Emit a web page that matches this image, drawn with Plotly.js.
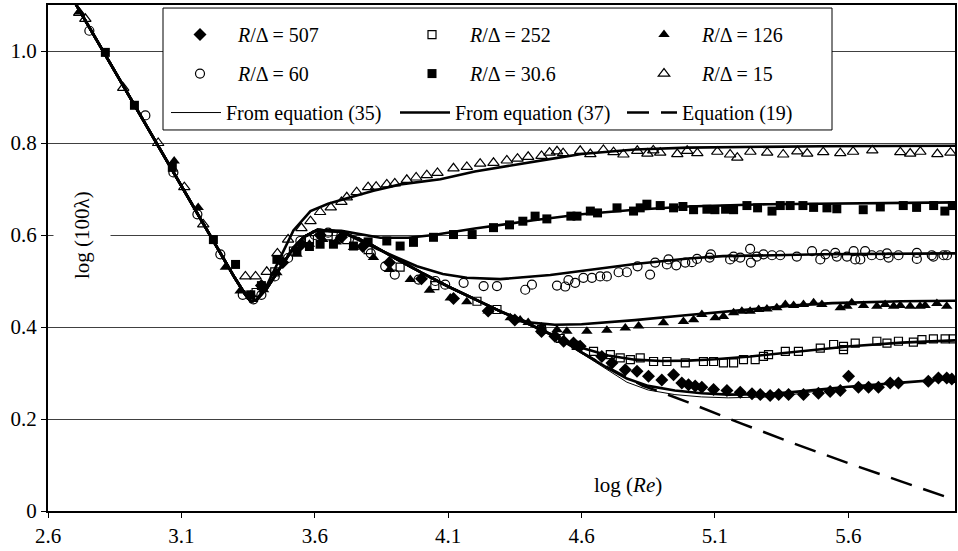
<!DOCTYPE html>
<html>
<head>
<meta charset="utf-8">
<script src="https://cdn.plot.ly/plotly-3.0.1.min.js"></script>
<style>html,body{margin:0;padding:0;background:#fff}#chart{width:958px;height:551px}</style>
</head>
<body>
<div id="chart"></div>
<script>
// ---- tick labels ----
const xTickVals = [2.6, 3.1, 3.6, 4.1, 4.6, 5.1, 5.6];
const xTickText = ["2.6", "3.1", "3.6", "4.1", "4.6", "5.1", "5.6"];
const yTickVals = [0, 0.2, 0.4, 0.6, 0.8, 1.0];
const yTickText = ["0", "0.2", "0.4", "0.6", "0.8", "1.0"];

// ---- experimental points (log Re, log 100λ) ----
const s507x = [3.40,3.48,3.55,3.62,3.70,3.78,3.88,4.00,4.12,4.25,4.35,4.45,4.50,4.533,4.57,4.595,4.676,4.714,4.764,4.808,4.851,4.901,4.945,4.976,5.001,5.026,5.051,5.095,5.145,5.195,5.239,5.27,5.307,5.339,5.376,5.432,5.488,5.532,5.57,5.601,5.638,5.676,5.713,5.757,5.788,5.9,5.938,5.969,5.988];
const s507y = [0.49,0.54,0.58,0.60,0.595,0.575,0.54,0.505,0.462,0.435,0.415,0.39,0.38,0.369,0.365,0.358,0.336,0.322,0.307,0.304,0.293,0.285,0.296,0.278,0.2745,0.272,0.269,0.264,0.262,0.258,0.255,0.253,0.251,0.253,0.253,0.253,0.256,0.26,0.262,0.293,0.269,0.269,0.269,0.278,0.278,0.282,0.289,0.289,0.287];

const s252x = [3.38,3.45,3.52,3.58,3.65,3.72,3.80,3.92,4.05,4.208,4.283,4.45,4.52,4.58,4.645,4.708,4.745,4.783,4.82,4.87,4.92,4.989,5.057,5.095,5.132,5.17,5.207,5.251,5.282,5.301,5.364,5.413,5.495,5.545,5.582,5.582,5.626,5.707,5.745,5.788,5.844,5.876,5.919,5.963,5.994];
const s252y = [0.475,0.52,0.565,0.59,0.598,0.59,0.568,0.53,0.49,0.456,0.438,0.395,0.375,0.36,0.347,0.34,0.333,0.329,0.333,0.325,0.325,0.322,0.325,0.325,0.322,0.322,0.329,0.329,0.336,0.34,0.347,0.347,0.354,0.362,0.358,0.351,0.365,0.369,0.365,0.369,0.367,0.3725,0.374,0.374,0.374];

const s126x = [2.717,3.073,3.163,3.265,3.32,3.36,3.408,3.458,3.533,3.58,3.63,3.68,3.745,3.82,3.88,3.958,4.03,4.108,4.17,4.25,4.333,4.37,4.40,4.45,4.508,4.545,4.62,4.695,4.764,4.814,4.907,4.982,5.02,5.051,5.101,5.132,5.17,5.201,5.232,5.264,5.295,5.332,5.364,5.395,5.432,5.47,5.501,5.57,5.595,5.613,5.657,5.707,5.738,5.77,5.795,5.832,5.869,5.888,5.932,5.969];
const s126y = [1.085,0.761,0.66,0.53,0.478,0.47,0.481,0.518,0.558,0.58,0.59,0.585,0.573,0.551,0.525,0.503,0.48,0.463,0.455,0.435,0.42,0.415,0.41,0.40,0.394,0.391,0.391,0.393,0.398,0.402,0.409,0.412,0.416,0.427,0.42,0.423,0.431,0.434,0.434,0.438,0.439,0.442,0.449,0.447,0.449,0.4525,0.449,0.442,0.445,0.4525,0.447,0.445,0.449,0.445,0.447,0.445,0.445,0.447,0.451,0.445];

const s60x = [2.755,2.965,3.07,3.16,3.246,3.33,3.37,3.40,3.45,3.50,3.546,3.60,3.65,3.70,3.76,3.81,3.864,3.90,3.989,4.052,4.089,4.158,4.233,4.283,4.389,4.414,4.508,4.539,4.551,4.576,4.607,4.639,4.67,4.695,4.739,4.77,4.81,4.857,4.876,4.92,4.926,4.955,4.989,5.014,5.033,5.08,5.085,5.157,5.17,5.195,5.232,5.235,5.257,5.282,5.314,5.345,5.407,5.464,5.495,5.514,5.551,5.557,5.595,5.62,5.626,5.645,5.663,5.688,5.72,5.745,5.751,5.788,5.857,5.857,5.913,5.919,5.957,5.97];
const s60y = [1.044,0.86,0.736,0.645,0.558,0.47,0.46,0.47,0.51,0.55,0.587,0.60,0.605,0.60,0.585,0.56,0.532,0.514,0.503,0.50,0.492,0.496,0.489,0.489,0.481,0.492,0.49,0.488,0.502,0.496,0.507,0.507,0.51,0.51,0.519,0.519,0.532,0.514,0.54,0.536,0.547,0.534,0.54,0.541,0.548,0.551,0.558,0.547,0.553,0.551,0.57,0.54,0.553,0.558,0.556,0.556,0.553,0.565,0.547,0.558,0.561,0.553,0.553,0.565,0.547,0.547,0.565,0.556,0.556,0.56,0.551,0.556,0.561,0.548,0.556,0.553,0.556,0.556];

const s30x = [2.815,2.924,3.066,3.22,3.303,3.36,3.40,3.458,3.533,3.58,3.62,3.67,3.745,3.80,3.87,3.92,3.97,4.045,4.12,4.19,4.27,4.33,4.38,4.426,4.47,4.56,4.583,4.633,4.66,4.733,4.795,4.82,4.845,4.895,4.945,4.98,5.02,5.07,5.10,5.14,5.17,5.22,5.26,5.314,5.345,5.382,5.43,5.47,5.52,5.557,5.656,5.72,5.806,5.856,5.92,5.962,5.99];
const s30y = [0.997,0.882,0.747,0.59,0.536,0.47,0.49,0.547,0.565,0.575,0.58,0.58,0.576,0.585,0.587,0.576,0.584,0.595,0.601,0.601,0.616,0.622,0.63,0.641,0.635,0.641,0.641,0.652,0.648,0.659,0.652,0.659,0.667,0.664,0.659,0.662,0.655,0.656,0.655,0.656,0.655,0.664,0.659,0.652,0.664,0.664,0.664,0.66,0.659,0.657,0.655,0.661,0.664,0.66,0.664,0.652,0.664];

const s15x = [2.717,2.74,2.882,3.013,3.111,3.182,3.34,3.378,3.42,3.46,3.50,3.55,3.584,3.62,3.66,3.70,3.72,3.757,3.80,3.83,3.87,3.90,3.945,3.98,4.02,4.06,4.12,4.17,4.22,4.27,4.32,4.36,4.40,4.45,4.48,4.508,4.531,4.595,4.633,4.682,4.72,4.757,4.809,4.847,4.869,4.895,4.959,4.996,5.034,5.109,5.157,5.184,5.233,5.296,5.356,5.409,5.446,5.506,5.57,5.618,5.69,5.795,5.832,5.87,5.934,5.983];
const s15y = [1.083,1.07,0.92,0.80,0.704,0.623,0.51,0.51,0.52,0.56,0.59,0.615,0.63,0.65,0.66,0.672,0.682,0.693,0.704,0.705,0.71,0.712,0.72,0.725,0.73,0.735,0.745,0.748,0.755,0.757,0.762,0.766,0.77,0.772,0.779,0.782,0.778,0.783,0.776,0.785,0.78,0.775,0.783,0.777,0.784,0.779,0.776,0.783,0.778,0.781,0.775,0.768,0.781,0.779,0.775,0.782,0.777,0.78,0.778,0.781,0.784,0.78,0.777,0.781,0.776,0.779];

// ---- model curves, equation (37) ----
const c15x = [2.6,2.8,3.0,3.2,3.3,3.34,3.36,3.38,3.42,3.47,3.52,3.584,3.65,3.734,3.82,3.921,4.071,4.2,4.35,4.48,4.6,4.8,5.0,5.5,6.0];
const c15y = [1.206,1.006,0.806,0.606,0.507,0.47,0.456,0.458,0.49,0.55,0.61,0.652,0.668,0.682,0.696,0.71,0.721,0.738,0.753,0.765,0.776,0.786,0.79,0.793,0.794];
const c30x = [2.6,2.8,3.0,3.2,3.3,3.34,3.36,3.38,3.42,3.47,3.52,3.56,3.61,3.70,3.797,3.846,3.95,4.045,4.2,4.42,4.6,4.8,5.0,5.3,6.0];
const c30y = [1.206,1.006,0.806,0.606,0.507,0.47,0.456,0.458,0.484,0.528,0.572,0.596,0.611,0.609,0.60,0.594,0.594,0.60,0.614,0.632,0.645,0.655,0.662,0.667,0.671];
const c60x = [2.6,2.8,3.0,3.2,3.3,3.34,3.36,3.38,3.42,3.47,3.52,3.56,3.61,3.70,3.833,3.983,4.08,4.17,4.295,4.483,4.6,4.8,5.0,5.13,5.5,6.0];
const c60y = [1.206,1.006,0.806,0.606,0.507,0.47,0.456,0.458,0.484,0.528,0.572,0.596,0.611,0.607,0.57,0.532,0.515,0.507,0.504,0.513,0.522,0.537,0.549,0.554,0.558,0.56];
const c126x = [2.6,2.8,3.0,3.2,3.3,3.34,3.36,3.38,3.42,3.47,3.52,3.56,3.61,3.70,3.80,3.90,4.0,4.1,4.2,4.3,4.4,4.5,4.6,4.7,4.8,4.98,5.2,5.4,5.54,5.8,6.0];
const c126y = [1.206,1.006,0.806,0.606,0.507,0.47,0.456,0.458,0.484,0.528,0.572,0.596,0.611,0.607,0.583,0.55,0.518,0.488,0.46,0.433,0.41,0.405,0.406,0.41,0.415,0.425,0.437,0.447,0.452,0.456,0.457];
const c252x = [2.6,2.8,3.0,3.2,3.3,3.34,3.36,3.38,3.42,3.47,3.52,3.56,3.61,3.70,3.80,3.90,4.0,4.1,4.2,4.3,4.4,4.5,4.6,4.7,4.8,4.9,5.0,5.1,5.233,5.4,5.608,5.8,6.0];
const c252y = [1.206,1.006,0.806,0.606,0.507,0.47,0.456,0.458,0.484,0.528,0.572,0.596,0.611,0.607,0.583,0.55,0.518,0.488,0.46,0.433,0.407,0.38,0.355,0.338,0.329,0.326,0.327,0.33,0.336,0.346,0.358,0.366,0.371];
const c507x = [2.6,2.8,3.0,3.2,3.3,3.34,3.36,3.38,3.42,3.47,3.52,3.56,3.61,3.70,3.80,3.90,4.0,4.1,4.2,4.3,4.4,4.5,4.6,4.7,4.77,4.85,4.95,5.05,5.15,5.3,5.4,5.5,5.6,5.8,6.0];
const c507y = [1.206,1.006,0.806,0.606,0.507,0.47,0.456,0.458,0.484,0.528,0.572,0.596,0.611,0.607,0.583,0.55,0.518,0.488,0.46,0.433,0.407,0.38,0.345,0.31,0.288,0.272,0.262,0.256,0.253,0.254,0.259,0.265,0.27,0.279,0.288];
// ---- equation (35), thin line where it separates for R/Δ = 507 ----
const t507x = [4.5,4.6,4.7,4.77,4.85,4.95,5.05,5.15,5.3,5.4,5.5,5.6,5.8,6.0];
const t507y = [0.38,0.343,0.305,0.28,0.263,0.253,0.248,0.246,0.248,0.254,0.262,0.269,0.279,0.288];
// ---- equation (19) ----
const e19x = [3.9,4.0,4.1,4.2,4.3,4.4,4.5,4.6,4.7,4.83,4.9,5.0,5.2,5.4,5.6,5.8,6.0];
const e19y = [0.55,0.518,0.488,0.46,0.433,0.407,0.38,0.345,0.312,0.272,0.258,0.236,0.19,0.146,0.104,0.064,0.024];

const FONT = "Liberation Serif";
function lineTr(x, y, w, name, show, dash, rank, lw) {
  const t = {x: x, y: y, type: 'scatter', mode: 'lines', name: name, showlegend: show,
    legend: 'legend3', legendrank: rank, line: {color: '#000', width: w, dash: dash || 'solid'}, hoverinfo: 'skip'};
  if (lw) t.legendwidth = lw;
  return t;
}
const lines = [];
// thin eq (35) curves (under thick)
lines.push(lineTr(c15x, c15y, 1, 'From equation (35)', true, null, 1, 164));
[[c30x,c30y],[c60x,c60y],[c126x,c126y],[c252x,c252y],[c507x,c507y],[t507x,t507y]].forEach(p => lines.push(lineTr(p[0], p[1], 1, 'From equation (35)', false, null, 1)));
// dashed eq (19)
lines.push(lineTr(e19x, e19y, 2.5, 'Equation (19)', true, '22px,12px', 3, 112));
// thick eq (37)
lines.push(lineTr(c15x, c15y, 2.6, 'From equation (37)', true, null, 2, 162));
[[c30x,c30y],[c60x,c60y],[c126x,c126y],[c252x,c252y],[c507x,c507y]].forEach(p => lines.push(lineTr(p[0], p[1], 2.6, 'From equation (37)', false, null, 2)));

function ptTr(x, y, name, sym, size, legend, lw) {
  return {x: x, y: y, type: 'scatter', mode: 'markers', name: name, legend: legend,
    marker: {symbol: sym, size: size, color: '#000', line: {color: '#000', width: lw}}, hoverinfo: 'skip'};
}
const pts = [
  ptTr(s507x, s507y, '<i>R</i>/Δ = 507', 'diamond', 10, 'legend', 0),
  ptTr(s252x, s252y, '<i>R</i>/Δ = 252', 'square-open', 8, 'legend', 1.2),
  ptTr(s126x, s126y, '<i>R</i>/Δ = 126', 'triangle-up', 10, 'legend', 0),
  ptTr(s60x, s60y, '<i>R</i>/Δ = 60', 'circle-open', 9, 'legend2', 1.2),
  ptTr(s30x, s30y, '<i>R</i>/Δ = 30.6', 'square', 9, 'legend2', 0),
  ptTr(s15x, s15y, '<i>R</i>/Δ = 15', 'triangle-up-open', 10, 'legend2', 1.2)
];
const data = pts.concat(lines);

const legBase = {orientation: 'h', xref: 'paper', yref: 'paper', xanchor: 'left', yanchor: 'top',
  bgcolor: 'rgba(0,0,0,0)', borderwidth: 0, font: {family: FONT, size: 20, color: '#000'},
  itemwidth: 66, traceorder: 'normal'};
const legX = (162 - 48) / 907;
const leg3X = (166 - 48) / 907;

const layout = {
  width: 958, height: 551,
  margin: {l: 48, r: 3, t: 5, b: 40},
  paper_bgcolor: '#fff', plot_bgcolor: '#fff',
  font: {family: FONT, size: 21, color: '#000'},
  xaxis: {range: [2.6, 6.0], tickvals: xTickVals, ticktext: xTickText, showgrid: false, zeroline: false,
    showline: true, linecolor: '#000', linewidth: 2, mirror: true, ticks: 'outside', ticklen: 5,
    tickcolor: '#000', tickwidth: 1, tickfont: {family: FONT, size: 21, color: '#000'}},
  yaxis: {range: [0, 1.1], tickvals: yTickVals, ticktext: yTickText, showgrid: true, gridcolor: '#404040',
    gridwidth: 1, zeroline: false, showline: true, linecolor: '#000', linewidth: 2, mirror: true,
    ticks: 'outside', ticklen: 5, tickcolor: '#000', tickwidth: 1, tickfont: {family: FONT, size: 21, color: '#000'}},
  showlegend: true,
  legend: Object.assign({}, legBase, {x: legX, y: 0.980, entrywidth: 151}),
  legend2: Object.assign({}, legBase, {x: legX, y: 0.903, entrywidth: 151}),
  legend3: Object.assign({}, legBase, {x: leg3X, y: 0.826, itemwidth: 50}),
  shapes: [{type: 'rect', xref: 'paper', yref: 'paper', x0: 0.1268, x1: 0.8644, y0: 0.753, y1: 0.994,
    line: {color: '#000', width: 1}, fillcolor: '#fff', layer: 'above'}],
  annotations: [
    {text: 'log (<i>Re</i>)', x: 4.775, y: 0.057, xref: 'x', yref: 'y', showarrow: false,
      xanchor: 'center', yanchor: 'middle', font: {family: FONT, size: 21, color: '#000'}},
    {text: 'log (100λ)', x: (82 - 48) / 907, y: 0.6, xref: 'paper', yref: 'y', showarrow: false, textangle: -90,
      xanchor: 'center', yanchor: 'middle', bgcolor: '#fff', borderpad: 16,
      font: {family: FONT, size: 21, color: '#000'}}
  ]
};
Plotly.newPlot('chart', data, layout, {staticPlot: true});
</script>
</body>
</html>
